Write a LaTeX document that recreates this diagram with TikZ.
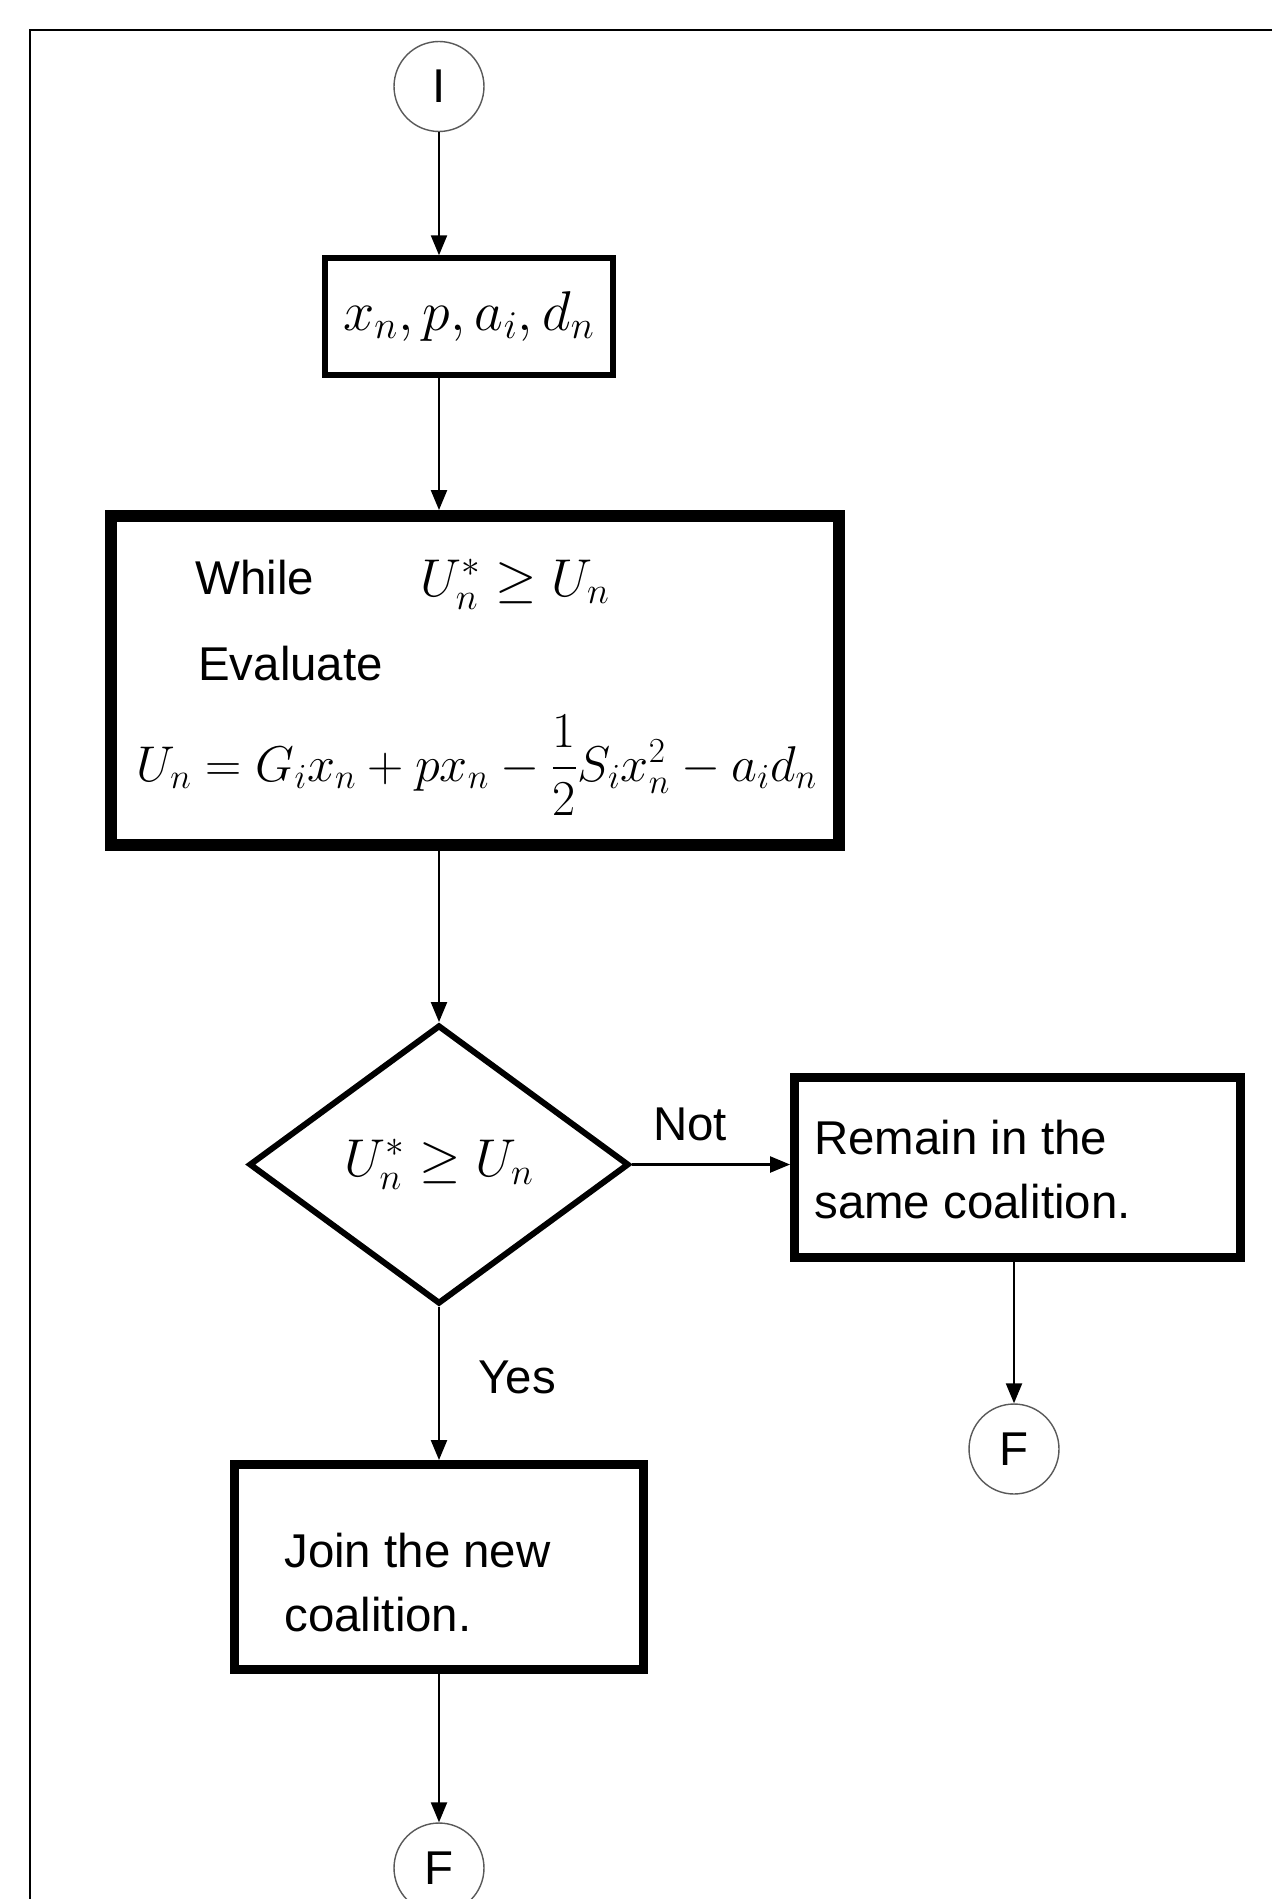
\RequirePackage{fix-cm}
\documentclass[tikz,border=0pt]{standalone}
\usepackage{amsmath}
\usepackage{amssymb}
\usepackage[no-math]{fontspec}
\setmainfont{Liberation Sans}
\usetikzlibrary{shapes.geometric,arrows.meta}
\newcommand{\flowtext}{\fontsize{27}{36}\selectfont}
\newcommand{\flowmath}{\fontsize{30.3}{36}\selectfont}
\newcommand{\flowinput}{\fontsize{31.9}{38}\selectfont}
\newcommand{\flowformula}{\fontsize{28.6}{36}\selectfont}

\begin{document}
\begin{tikzpicture}[x=0.02cm,y=-0.02cm]
					\tikzstyle{every node}+=[inner sep=0pt]
					\tikzstyle{flowarrow}=[line width=1.3pt,-{Triangle[length=0.4cm,width=0.32cm]}]
					\tikzstyle{endpoint}=[circle,draw=black!65,line width=0.8pt,minimum size=1.8cm,font=\flowtext]
					\tikzstyle{procbox}=[rectangle,draw=black]
					\useasboundingbox (0,0) rectangle (1272,1899);
					\draw [line width=1.2pt] (1272,30) -- (30,30) -- (30,1899);
					\node [endpoint] (start) at (439,86.5) {I};
					\node [procbox,line width=3.1pt,minimum width=5.76cm,minimum height=2.34cm,font=\flowinput] (input) at (469,316.5) {$x_n,p,a_i,d_n$};
					\node [procbox,line width=6.8pt,minimum width=14.56cm,minimum height=6.58cm] (eval) at (475,680.5) {};
					\node [anchor=base west,font=\flowtext] (whilelabel) at (195,594) {While};
					\node [anchor=base west,font=\flowmath] (whilecond) at (420,596) {$U_n^*\geq U_n$};
					\node [anchor=base west,font=\flowtext] (evallabel) at (198,680) {Evaluate};
					\node [anchor=base,font=\flowformula] (utility) at (477,781) {$U_n=G_ix_n+px_n-\dfrac{1}{2}S_ix_n^2-a_id_n$};
					\node [diamond,draw=black,line width=3.4pt,minimum width=7.6cm,minimum height=5.58cm,font=\flowmath] (test) at (439,1164.5) {$U_n^*\geq U_n$};
					\node [procbox,line width=5.1pt,minimum width=8.92cm,minimum height=3.6cm] (stay) at (1017.5,1167.5) {};
					\node [anchor=base west,align=left,font=\flowtext] (staytext) at (814,1218) {Remain in the\\same coalition.};
					\node [endpoint] (stopstay) at (1014,1449) {F};
					\node [procbox,line width=5.1pt,minimum width=8.18cm,minimum height=4.1cm] (join) at (439,1567) {};
					\node [anchor=base west,align=left,font=\flowtext] (jointext) at (284,1631) {Join the new\\coalition.};
					\node [endpoint] (stopjoin) at (439,1868) {F};
					\draw [flowarrow] (start) -- (start |- input.north);
					\draw [flowarrow] (start |- input.south) -- (start |- eval.north);
					\draw [flowarrow] (start |- eval.south) -- (test.north);
					\draw [flowarrow] (test.east) -- (test.east -| stay.west);
					\draw (690,1140) node [anchor=base,font=\flowtext] (notlabel) {Not};
					\draw [flowarrow] (test.south) -- (join.north);
					\draw (517,1393) node [anchor=base,font=\flowtext] (yeslabel) {Yes};
					\draw [flowarrow] (stopstay |- stay.south) -- (stopstay.north);
					\draw [flowarrow] (join) -- (stopjoin);
\end{tikzpicture}
\end{document}
